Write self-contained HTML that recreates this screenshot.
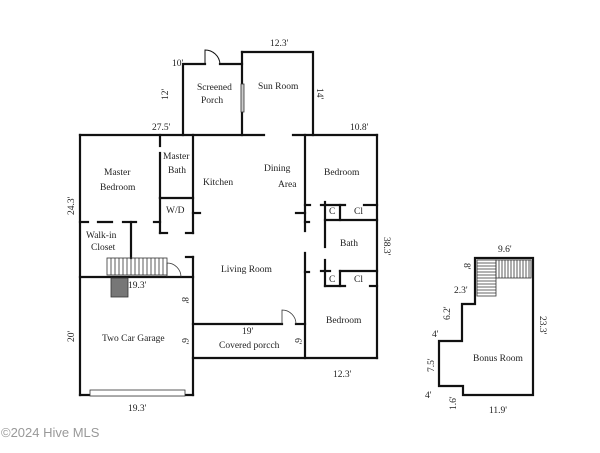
<!DOCTYPE html>
<html><head><meta charset="utf-8"><style>
html,body{margin:0;padding:0;background:#fff;}
svg{display:block;}
text{font-family:"Liberation Serif",serif;font-size:9.5px;fill:#222;}
.d{font-size:8.5px;}
</style></head><body>
<svg width="600" height="453" viewBox="0 0 600 453" xmlns="http://www.w3.org/2000/svg">
<g stroke="#111" stroke-width="2.2" fill="none" stroke-linecap="square">
<polyline points="183,135 183,64 205,64"/>
<polyline points="220,64 242,64 242,135"/>
<polyline points="242,52 313,52 313,135"/>
<line x1="242" y1="52" x2="242" y2="64"/>
<path d="M205,64 L205,50 A15,15 0 0 1 220,64" stroke-width="1"/>
<line x1="80" y1="135" x2="264" y2="135"/>
<line x1="293" y1="135" x2="377" y2="135"/>
<line x1="80" y1="135" x2="80" y2="395"/>
<line x1="377" y1="135" x2="377" y2="358"/>
<line x1="160" y1="135" x2="160" y2="146"/>
<line x1="160" y1="153" x2="160" y2="198"/>
<line x1="193" y1="135" x2="193" y2="233"/>
<line x1="160" y1="198" x2="193" y2="198"/>
<line x1="160" y1="198" x2="160" y2="233"/>
<line x1="160" y1="233" x2="167" y2="233"/>
<line x1="186" y1="233" x2="193" y2="233"/>
<line x1="193" y1="213" x2="200" y2="213"/>
<line x1="154" y1="222" x2="160" y2="222"/>
<line x1="80" y1="222" x2="88" y2="222"/>
<line x1="98" y1="222" x2="112" y2="222"/>
<line x1="123" y1="222" x2="136" y2="222"/>
<line x1="131" y1="222" x2="131" y2="258"/>
<line x1="80" y1="277" x2="193" y2="277"/>
<line x1="193" y1="257" x2="193" y2="395"/>
<line x1="186" y1="257" x2="193" y2="257"/>
<line x1="80" y1="395" x2="193" y2="395"/>
<line x1="193" y1="324" x2="282" y2="324"/>
<line x1="296" y1="324" x2="305" y2="324"/>
<line x1="193" y1="358" x2="377" y2="358"/>
<line x1="305" y1="135" x2="305" y2="231"/>
<line x1="305" y1="253" x2="305" y2="358"/>
<line x1="296" y1="213" x2="305" y2="213"/>
<line x1="305" y1="222" x2="309" y2="222"/>
<line x1="305" y1="272" x2="309" y2="272"/>
<line x1="305" y1="205" x2="310" y2="205"/>
<line x1="321" y1="205" x2="345" y2="205"/>
<line x1="364" y1="205" x2="377" y2="205"/>
<line x1="340" y1="205" x2="340" y2="220"/>
<line x1="325" y1="220" x2="377" y2="220"/>
<line x1="325" y1="202" x2="325" y2="247"/>
<line x1="325" y1="260" x2="325" y2="286"/>
<line x1="321" y1="271" x2="330" y2="271"/>
<line x1="340" y1="271" x2="377" y2="271"/>
<line x1="340" y1="271" x2="340" y2="286"/>
<line x1="325" y1="286" x2="345" y2="286"/>
<line x1="370" y1="286" x2="377" y2="286"/>
<polyline points="475,258 533,258 533,395 463,395 463,386 439,386 439,341 462,341 462,304 475,304 475,258"/>
</g>
<g stroke="#333" stroke-width="0.8" fill="none">
<rect x="241" y="84" width="3" height="28" fill="#ccc"/>
<path d="M167,277 L167,263 A14,14 0 0 1 181,277"/>
<path d="M282,324 L282,310 A14,14 0 0 1 296,324"/>
<rect x="107" y="258" width="60" height="17"/>
<path d="M111,258v17M115,258v17M119,258v17M123,258v17M127,258v17M131,258v17M135,258v17M139,258v17M143,258v17M147,258v17M151,258v17M155,258v17M159,258v17M163,258v17"/>
<rect x="111" y="278" width="17" height="19" fill="#777"/>
<rect x="90" y="390" width="95" height="6" fill="#fff"/>
<rect x="477" y="260" width="19" height="36"/>
<path d="M477,263h19M477,266h19M477,269h19M477,272h19M477,275h19M477,278h19M477,281h19M477,284h19M477,287h19M477,290h19M477,293h19"/>
<rect x="496" y="260" width="35" height="18"/>
<path d="M499,260v18M502,260v18M505,260v18M508,260v18M511,260v18M514,260v18M517,260v18M520,260v18M523,260v18M526,260v18M529,260v18"/>
</g>
<text x="197" y="90">Screened</text><text x="201" y="103">Porch</text>
<text x="258" y="89">Sun Room</text>
<text x="104" y="175">Master</text><text x="100" y="190">Bedroom</text>
<text x="163" y="159">Master</text><text x="168" y="173">Bath</text>
<text x="203" y="185">Kitchen</text>
<text x="264" y="171">Dining</text><text x="278" y="187">Area</text>
<text x="324" y="175">Bedroom</text>
<text x="166" y="213">W/D</text>
<text x="86" y="238">Walk-in</text><text x="91" y="250">Closet</text>
<text x="221" y="272">Living Room</text>
<text x="102" y="341">Two Car Garage</text>
<text x="219" y="348">Covered porcch</text>
<text x="326" y="323">Bedroom</text>
<text x="340" y="246">Bath</text>
<text x="329" y="214">C</text><text x="354" y="214">Cl</text>
<text x="329" y="282">C</text><text x="354" y="282">Cl</text>
<text x="473" y="361">Bonus Room</text>
<g class="d">
<text x="172" y="66">10'</text><text x="270" y="46">12.3'</text>
<text x="152" y="130">27.5'</text><text x="350" y="130">10.8'</text>
<text x="128" y="288">19.3'</text><text x="242" y="334">19'</text>
<text x="333" y="377">12.3'</text><text x="128" y="411">19.3'</text>
<text x="498" y="252">9.6'</text><text x="454" y="293">2.3'</text>
<text x="432" y="337">4'</text><text x="425" y="398">4'</text>
<text x="489" y="413">11.9'</text>
<text transform="translate(168,100) rotate(-90)">12'</text>
<text transform="translate(317,88) rotate(90)">14'</text>
<text transform="translate(74,215) rotate(-90)">24.3'</text>
<text transform="translate(384,237) rotate(90)">38.3'</text>
<text transform="translate(74,342) rotate(-90)">20'</text>
<text transform="translate(182,297) rotate(90)">8'</text>
<text transform="translate(182,338) rotate(90)">6'</text>
<text transform="translate(295,338) rotate(90)">6'</text>
<text transform="translate(464,263) rotate(90)">8'</text>
<text transform="translate(450,320) rotate(-90)">6.2'</text>
<text transform="translate(434,372) rotate(-90)">7.5'</text>
<text transform="translate(456,410) rotate(-90)">1.6'</text>
<text transform="translate(540,316) rotate(90)">23.3'</text>
</g>
<text x="1" y="437" style="font-family:'Liberation Sans',sans-serif;font-size:13px;fill:#999;">©2024 Hive MLS</text>
</svg>
</body></html>
